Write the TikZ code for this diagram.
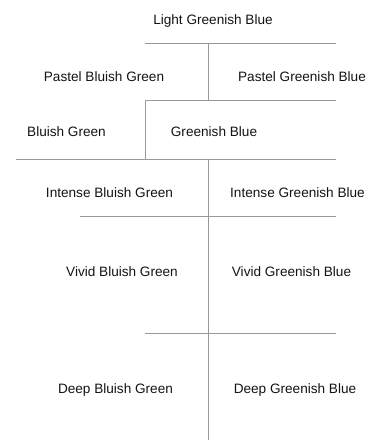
\documentclass[tikz,border=0pt]{standalone}
\usepackage{fontspec}
\setmainfont{Liberation Sans}
\begin{document}
\begin{tikzpicture}[x=1pt,y=-1pt,
  rule/.style={draw=black!40,line width=1pt},
  label/.style={font=\fontsize{13.6}{16}\selectfont,text=black!92,inner sep=0pt,anchor=center}]
\useasboundingbox[fill=white] (0,0) rectangle (374,441);

% partition lines
\draw[rule] (145,44) -- (336,44);
\draw[rule] (208,44) -- (208,101);
\draw[rule] (145,101) -- (336,101);
\draw[rule] (145,101) -- (145,159);
\draw[rule] (16,159) -- (336,159);
\draw[rule] (208,159) -- (208,440);
\draw[rule] (80,216.5) -- (336,216.5);
\draw[rule] (145,333) -- (336,333);

% colour names
\node[label] (lgb) at (213,20.5) {Light Greenish Blue};
\node[label] (pbg) at (104,76.5) {Pastel Bluish Green};
\node[label] (pgb) at (302,76.5) {Pastel Greenish Blue};
\node[label] (bg)  at (66.5,131.5) {Bluish Green};
\node[label] (gb)  at (214,131.5) {Greenish Blue};
\node[label] (ibg) at (109.5,192.5) {Intense Bluish Green};
\node[label] (igb) at (297.5,192.5) {Intense Greenish Blue};
\node[label] (vbg) at (122,271.5) {Vivid Bluish Green};
\node[label] (vgb) at (291.5,271.5) {Vivid Greenish Blue};
\node[label] (dbg) at (115.5,389.5) {Deep Bluish Green};
\node[label] (dgb) at (295,389.5) {Deep Greenish Blue};
\end{tikzpicture}
\end{document}
